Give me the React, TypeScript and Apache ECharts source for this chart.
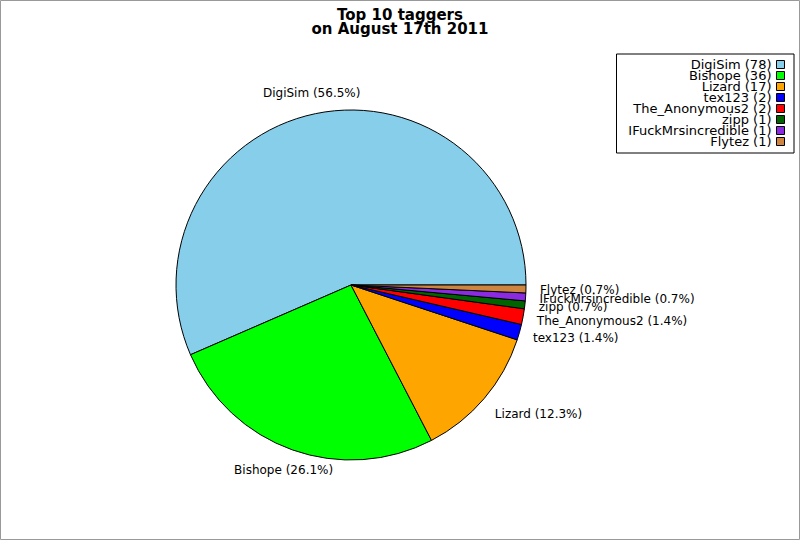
import React, { useEffect, useRef } from "react";
import * as echarts from "echarts";

const names = ["DigiSim", "Bishope", "Lizard", "tex123", "The_Anonymous2", "zipp", "IFuckMrsincredible", "Flytez"];
const counts = [78, 36, 17, 2, 2, 1, 1, 1];
const colors = ["#87CEEB", "#00FF00", "#FFA500", "#0000FF", "#FF0000", "#006400", "#8A2BE2", "#CD853F"];

const titleText = "Top 10 taggers\non August 17th 2011";

const CX = 351;
const CY = 285;
const RADIUS = 175;
const LABEL_R = 189;
const FONT = "DejaVu Sans";

export default function App() {
  const ref = useRef<HTMLDivElement>(null);

  useEffect(() => {
    document.body.style.margin = "0";
    if (!ref.current) return;
    const chart = echarts.init(ref.current, null, { renderer: "svg" });
    const total = counts.reduce((a, b) => a + b, 0);
    const cum: number[] = [];
    let s = 0;
    counts.forEach((c) => {
      cum.push(s);
      s += c;
    });
    const countByName: Record<string, number> = {};
    names.forEach((n, i) => (countByName[n] = counts[i]));

    const labelLayout = (params: any) => {
      const i = params.dataIndex;
      let aDeg = ((cum[i] + counts[i] / 2) / total) * 360;
      aDeg = ((aDeg % 360) + 360) % 360;
      const a = (aDeg * Math.PI) / 180;
      const xt = CX + LABEL_R * Math.cos(a);
      const yt = CY - LABEL_R * Math.sin(a);
      let dx = 0;
      let dy = 0;
      if (aDeg >= 315 || aDeg <= 45) {
        dx = 0;
        dy = aDeg >= 315 ? (aDeg - 315) / 90 : 0.5 + aDeg / 90;
      } else if (aDeg <= 135) {
        const t = (aDeg - 90) / 45;
        dx = 0.5 + 0.5 * t * t * t;
        dy = 1;
      } else if (aDeg <= 225) {
        dx = 1;
        dy = 1 - (aDeg - 135) / 90;
      } else {
        const t = (270 - aDeg) / 45;
        dx = 0.5 + 0.5 * t * t * t;
        dy = 0;
      }
      const w = params.labelRect.width;
      const h = params.labelRect.height;
      return {
        x: xt - dx * w,
        y: yt - dy * h,
        align: "left",
        verticalAlign: "top",
      };
    };

    chart.setOption({
      animation: false,
      backgroundColor: "#ffffff",
      title: {
        text: titleText,
        left: "center",
        top: 3,
        textStyle: {
          fontFamily: FONT,
          fontSize: 15,
          fontWeight: "bold",
          lineHeight: 14,
          color: "#000",
        },
      },
      legend: {
        orient: "vertical",
        right: 6,
        top: 54,
        align: "right",
        icon: "rect",
        itemWidth: 8,
        itemHeight: 8,
        itemGap: -2,
        padding: [4, 9, 5, 6],
        borderColor: "#000",
        borderWidth: 1,
        backgroundColor: "#fff",
        itemStyle: { borderColor: "#000", borderWidth: 1 },
        formatter: (n: string) => `${n} (${countByName[n]})`,
        textStyle: {
          fontFamily: FONT,
          fontSize: 13,
          lineHeight: 11,
          color: "#000",
          width: 149,
          align: "right",
        },
        data: names,
      },
      graphic: [
        {
          type: "rect",
          shape: { x: 0.5, y: 0.5, width: 799, height: 539 },
          style: { fill: "none", stroke: "#999", lineWidth: 1 },
          silent: true,
        },
      ],
      series: [
        {
          type: "pie",
          center: [CX, CY],
          radius: RADIUS,
          startAngle: 0,
          clockwise: false,
          avoidLabelOverlap: false,
          itemStyle: { borderColor: "#000", borderWidth: 1 },
          label: {
            show: true,
            position: "outside",
            formatter: (p: any) => `${p.name} (${((p.value / total) * 100).toFixed(1)}%)`,
            fontFamily: FONT,
            fontSize: 12,
            lineHeight: 14,
            color: "#000",
          },
          labelLine: { show: false },
          labelLayout,
          emphasis: { disabled: true },
          data: names.map((n, i) => ({
            name: n,
            value: counts[i],
            itemStyle: { color: colors[i] },
          })),
        },
      ],
    });
    return () => chart.dispose();
  }, []);

  return <div ref={ref} style={{ width: 800, height: 540 }} />;
}
